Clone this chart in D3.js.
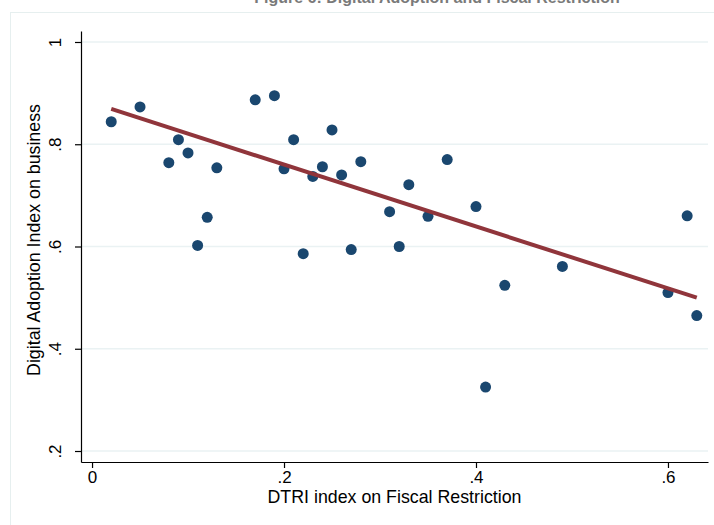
<!DOCTYPE html>
<html>
<head>
<meta charset="utf-8">
<script src="https://cdn.jsdelivr.net/npm/d3@7"></script>
<style>
  body { margin: 0; background: #fff; }
  text { font-family: "Liberation Sans", Arial, sans-serif; }
</style>
</head>
<body>
<svg id="chart" width="714" height="525"></svg>
<script>
// DTRI fiscal restriction index vs digital adoption index (business)
var dtri = [0.02, 0.05, 0.08, 0.09, 0.10, 0.11, 0.12, 0.13, 0.17, 0.19,
            0.20, 0.21, 0.22, 0.23, 0.24, 0.25, 0.26, 0.27, 0.28, 0.31,
            0.32, 0.33, 0.35, 0.37, 0.40, 0.41, 0.43, 0.49, 0.60, 0.62, 0.63];
var dai = [0.844, 0.873, 0.764, 0.809, 0.783, 0.602, 0.657, 0.754, 0.887, 0.895,
           0.752, 0.809, 0.586, 0.737, 0.756, 0.828, 0.740, 0.594, 0.766, 0.668,
           0.600, 0.721, 0.659, 0.770, 0.678, 0.325, 0.524, 0.561, 0.510, 0.660, 0.465];
// fitted line end points
var fitX = [0.02, 0.63];
var fitY = [0.869, 0.500];
var xTicks = [0, 0.2, 0.4, 0.6];
var xTickLabels = ["0", ".2", ".4", ".6"];
var yTicks = [0.2, 0.4, 0.6, 0.8, 1];
var yTickLabels = [".2", ".4", ".6", ".8", "1"];

var svg = d3.select("#chart");
var plotL = 81, plotR = 708, plotT = 31, plotB = 462;

var x = d3.scaleLinear().domain([-0.0115, 0.6417]).range([plotL, plotR]);
var y = d3.scaleLinear().domain([0.1785, 1.0215]).range([plotB, plotT]);

// outer frame
svg.append("rect")
  .attr("x", 10.5).attr("y", 12.5)
  .attr("width", 720).attr("height", 530)
  .attr("fill", "none").attr("stroke", "#e6efef").attr("stroke-width", 1);

// title (cut off at top edge)
svg.append("text")
  .attr("x", 437).attr("y", 3)
  .attr("text-anchor", "middle")
  .attr("font-size", 16).attr("font-weight", "bold")
  .attr("fill", "#7a7a7a")
  .text("Figure 6: Digital Adoption and Fiscal Restriction");

// gridlines
svg.append("g").selectAll("line").data(yTicks).join("line")
  .attr("x1", plotL).attr("x2", plotR)
  .attr("y1", d => y(d)).attr("y2", d => y(d))
  .attr("stroke", "#eaf2f3").attr("stroke-width", 1.5);

// axes
var xAxis = d3.axisBottom(x).tickValues(xTicks)
  .tickFormat((d, i) => xTickLabels[i]).tickSize(6).tickSizeOuter(0);
var gx = svg.append("g").attr("transform", "translate(0," + plotB + ")").call(xAxis);
gx.select(".domain").attr("stroke", "#000").attr("stroke-width", 1.2);
gx.selectAll(".tick line").attr("stroke", "#000").attr("stroke-width", 1.2);
gx.selectAll(".tick text").attr("font-size", 17).attr("fill", "#000")
  .style("font-family", "Liberation Sans, Arial, sans-serif");

var yAxis = d3.axisLeft(y).tickValues(yTicks)
  .tickFormat((d, i) => yTickLabels[i]).tickSize(6).tickSizeOuter(0);
var gy = svg.append("g").attr("transform", "translate(" + plotL + ",0)").call(yAxis);
gy.select(".domain").attr("stroke", "#000").attr("stroke-width", 1.2);
gy.selectAll(".tick line").attr("stroke", "#000").attr("stroke-width", 1.2);
gy.selectAll(".tick text")
  .attr("x", null).attr("dy", null)
  .attr("transform", "translate(-20,0) rotate(-90)")
  .attr("text-anchor", "middle")
  .attr("font-size", 17).attr("fill", "#000")
  .style("font-family", "Liberation Sans, Arial, sans-serif");

// axis titles
svg.append("text")
  .attr("x", (plotL + plotR) / 2).attr("y", 503)
  .attr("text-anchor", "middle").attr("font-size", 17.8)
  .text("DTRI index on Fiscal Restriction");
svg.append("text")
  .attr("transform", "translate(40,240) rotate(-90)")
  .attr("text-anchor", "middle").attr("font-size", 17.8)
  .text("Digital Adoption Index on business");

// points
var pts = dtri.map((d, i) => [d, dai[i]]);
svg.append("g").selectAll("circle").data(pts).join("circle")
  .attr("cx", d => x(d[0])).attr("cy", d => y(d[1]))
  .attr("r", 5.5).attr("fill", "#1a476f");

// fitted line
svg.append("line")
  .attr("x1", x(fitX[0])).attr("y1", y(fitY[0]))
  .attr("x2", x(fitX[1])).attr("y2", y(fitY[1]))
  .attr("stroke", "#90353b").attr("stroke-width", 4);
</script>
</body>
</html>
